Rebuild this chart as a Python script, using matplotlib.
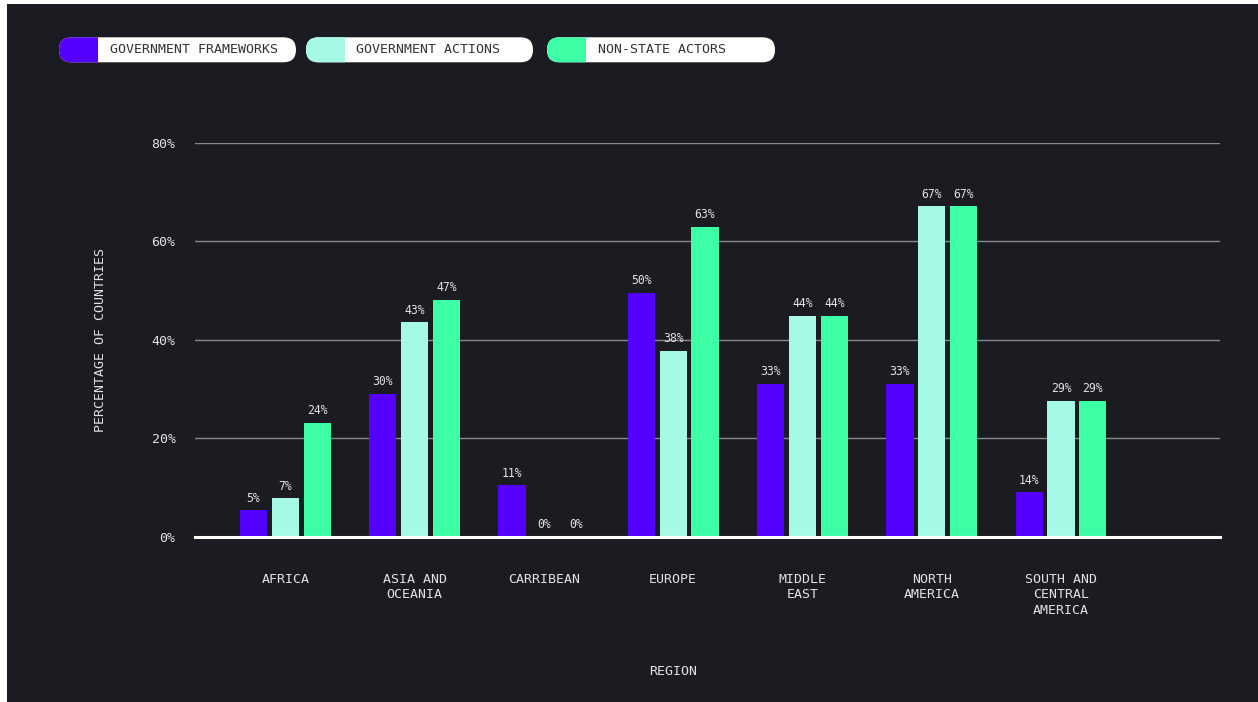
import numpy as np
import matplotlib
matplotlib.use("Agg")
import matplotlib.pyplot as plt
from matplotlib.patches import FancyBboxPatch, Rectangle

plt.rcParams['font.family'] = ['DejaVu Sans Mono', 'DejaVu Sans']

regions = ["AFRICA", "ASIA AND\nOCEANIA", "CARRIBEAN", "EUROPE", "MIDDLE\nEAST",
           "NORTH\nAMERICA", "SOUTH AND\nCENTRAL\nAMERICA"]
series = ["GOVERNMENT FRAMEWORKS", "GOVERNMENT ACTIONS", "NON-STATE ACTORS"]

# bar heights (the printed labels differ a little)
frameworks = [5.4, 29.0, 10.4, 49.5, 31.0, 31.0, 9.0]
actions = [7.8, 43.5, 0.0, 37.8, 44.9, 67.1, 27.6]
nonstate = [23.1, 48.1, 0.0, 62.9, 44.9, 67.1, 27.6]

frameworks_lbl = ["5%", "30%", "11%", "50%", "33%", "33%", "14%"]
actions_lbl = ["7%", "43%", "0%", "38%", "44%", "67%", "29%"]
nonstate_lbl = ["24%", "47%", "0%", "63%", "44%", "67%", "29%"]

colors = ["#5500ff", "#a6f9e6", "#3dffa6"]
bg = "#1b1b22"
txt = "#e2e2e2"

fig = plt.figure(figsize=(12.58, 7.02), dpi=100, facecolor=bg)
ax = fig.add_axes([195/1258, 1-536.7/702, (1220-195)/1258, (536.7-142.7)/702])
ax.set_facecolor(bg)

x = np.arange(len(regions))
w = 0.211
off = 0.246
vals = [frameworks, actions, nonstate]
lbls = [frameworks_lbl, actions_lbl, nonstate_lbl]
for i in range(3):
    bars = ax.bar(x + (i-1)*off, vals[i], width=w, color=colors[i], zorder=3)
    for b, l in zip(bars, lbls[i]):
        ax.annotate(l, (b.get_x() + b.get_width()/2, b.get_height()),
                    xytext=(0, 4), textcoords="offset points",
                    ha="center", va="bottom", color=txt, fontsize=8.3)

ax.set_xlim(-0.699, 7.23)
ax.set_ylim(0, 80)
for yv in [20, 40, 60, 80]:
    ax.axhline(yv, color="#8a8a8a", lw=1, zorder=1)
ax.axhline(0, color="white", lw=2.2, zorder=4, clip_on=False)

ax.set_yticks([0, 20, 40, 60, 80])
ax.set_yticklabels(["0%", "20%", "40%", "60%", "80%"])
ax.set_xticks(x)
ax.set_xticklabels(regions, linespacing=1.25)
ax.tick_params(axis="y", length=0, pad=14, labelsize=9.5, labelcolor=txt)
ax.tick_params(axis="x", length=0, pad=26, labelsize=9.5, labelcolor=txt)
for s in ax.spines.values():
    s.set_visible(False)

ax.set_ylabel("PERCENTAGE OF COUNTRIES", color=txt, fontsize=9.5, labelpad=0)
ax.yaxis.set_label_coords(-0.086, 0.5)
ax.text(3, -27.3, "REGION", color=txt, fontsize=9.5, ha="center", va="center")

# overlay in pixel units for the legend pills and the white border
ov = fig.add_axes([0, 0, 1, 1], zorder=10)
ov.set_xlim(0, 1258)
ov.set_ylim(702, 0)
ov.axis("off")
ov.patch.set_alpha(0)

pill_x = [59, 306, 547]
pill_w = [237, 227, 228]
pill_y = 37.3
pill_h = 25
sw = 38.5
for i in range(3):
    pill = FancyBboxPatch((pill_x[i], pill_y), pill_w[i], pill_h,
                          boxstyle="round,pad=0,rounding_size=12.5",
                          fc="white", ec="none")
    ov.add_patch(pill)
    sq = Rectangle((pill_x[i] - 1, pill_y - 1), sw + 1, pill_h + 2, fc=colors[i], ec="none")
    ov.add_patch(sq)
    sq.set_clip_path(pill)
    ov.text(pill_x[i] + sw + 12, pill_y + pill_h/2, series[i], color="#333333",
            fontsize=9.5, ha="left", va="center")

ov.add_patch(Rectangle((0, 0), 7, 702, fc="white", ec="none"))
ov.add_patch(Rectangle((0, 0), 1258, 4, fc="white", ec="none"))

fig.savefig("out.png", dpi=100, facecolor=bg)
